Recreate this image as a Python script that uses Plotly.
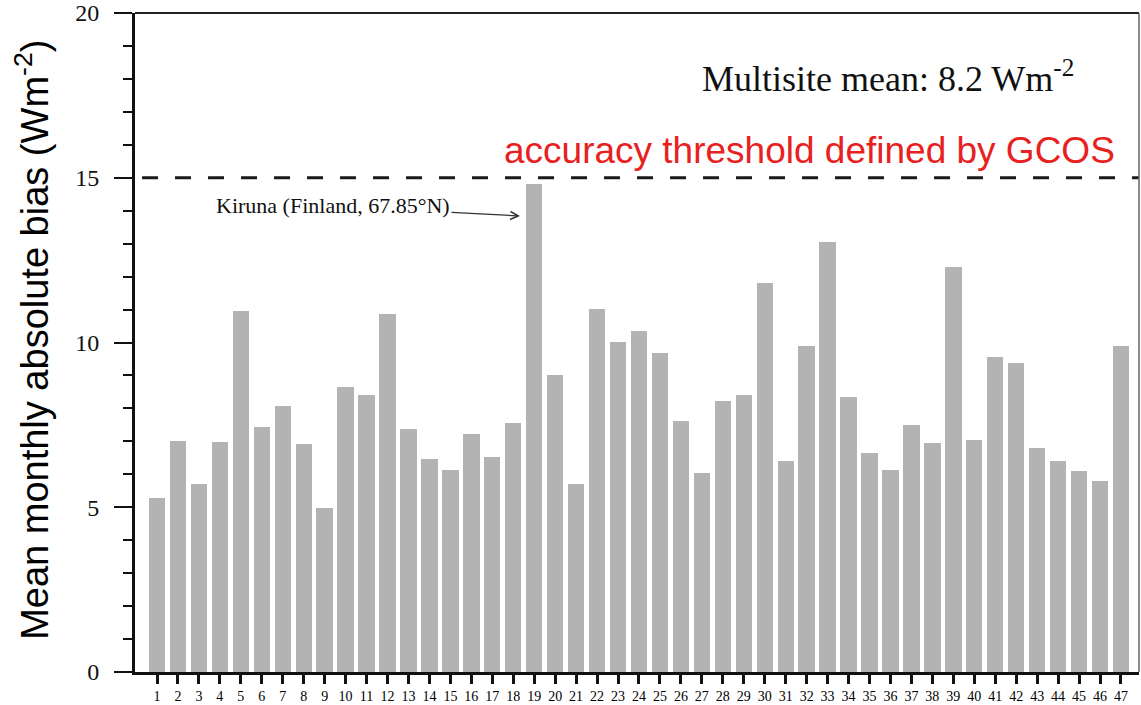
import plotly.graph_objects as go

stations = list(range(1, 48))
bias = [5.28, 7.01, 5.71, 6.98, 10.96, 7.44, 8.07, 6.92, 4.98, 8.65,
        8.41, 10.86, 7.37, 6.46, 6.13, 7.22, 6.52, 7.56, 14.81, 9.01,
        5.71, 11.02, 10.01, 10.35, 9.68, 7.62, 6.04, 8.22, 8.41, 11.81,
        6.40, 9.89, 13.05, 8.35, 6.65, 6.13, 7.50, 6.95, 12.29, 7.04,
        9.56, 9.38, 6.80, 6.40, 6.10, 5.80, 9.89]
threshold = 15
y_ticks = [0, 5, 10, 15, 20]
kiruna_station = 19

fig = go.Figure()
fig.add_trace(go.Bar(
    x=stations, y=bias, width=0.78,
    marker=dict(color="#b3b3b3", line=dict(width=0)),
    hoverinfo="x+y", showlegend=False,
))

serif = "Liberation Serif, Times New Roman, serif"
sans = "Liberation Sans, Arial, sans-serif"

fig.update_layout(
    width=1141, height=705,
    margin=dict(l=135, r=2, t=13, b=33),
    paper_bgcolor="white", plot_bgcolor="white",
    bargap=0,
    xaxis=dict(
        range=[-0.05, 47.86], automargin=False,
        tickmode="array", tickvals=stations, ticktext=[str(s) for s in stations],
        ticks="outside", ticklen=9, tickwidth=2.5, tickcolor="#111",
        showline=True, linewidth=3, linecolor="#111",
        showgrid=False, zeroline=False,
        tickfont=dict(family=serif, size=14, color="#000"),
        ticklabelstandoff=0,
    ),
    yaxis=dict(
        range=[0, 20], automargin=False,
        tickmode="array", tickvals=y_ticks,
        ticks="outside", ticklen=18, tickwidth=2, tickcolor="#111",
        minor=dict(dtick=1, ticklen=9, tickwidth=2, tickcolor="#111", ticks="outside", showgrid=False),
        showline=True, linewidth=3, linecolor="#111",
        showgrid=False, zeroline=False,
        tickfont=dict(family=serif, size=24, color="#111"),
        ticklabelstandoff=10,
    ),
    shapes=[
        dict(type="line", xref="paper", yref="y", x0=0.007, x1=1, y0=threshold, y1=threshold,
             line=dict(color="#1a1a1a", width=3, dash="16px,17px")),
        dict(type="line", xref="paper", yref="paper", x0=0, x1=1, y0=1, y1=1,
             line=dict(color="#222", width=2)),
        dict(type="line", xref="paper", yref="paper", x0=1, x1=1, y0=0, y1=1,
             line=dict(color="#666", width=1.5)),
    ],
    annotations=[
        dict(text="Mean monthly absolute bias (Wm<sup>-2</sup>)", textangle=-90,
             xref="paper", yref="paper", x=-0.1026, y=0.504, xanchor="center", yanchor="middle",
             showarrow=False, font=dict(family=sans, size=38, color="#000")),
        dict(text="accuracy threshold defined by GCOS",
             xref="paper", yref="paper", x=0.978, y=0.791, xanchor="right", yanchor="middle",
             showarrow=False, font=dict(family=sans, size=37, color="#e8211f")),
        dict(text="Multisite mean: 8.2 Wm<sup>-2</sup>",
             xref="paper", yref="paper", x=0.5627, y=0.904, xanchor="left", yanchor="middle",
             showarrow=False, font=dict(family=serif, size=36, color="#111")),
        dict(text="Kiruna (Finland, 67.85°N)", x=kiruna_station - 0.68, y=13.84, xref="x", yref="y",
             showarrow=True, ax=-187, ay=-10, arrowhead=5, arrowsize=1.3, arrowwidth=1.2,
             arrowcolor="#333", font=dict(family=serif, size=22, color="#111")),
    ],
)

fig.write_html("out.html")
